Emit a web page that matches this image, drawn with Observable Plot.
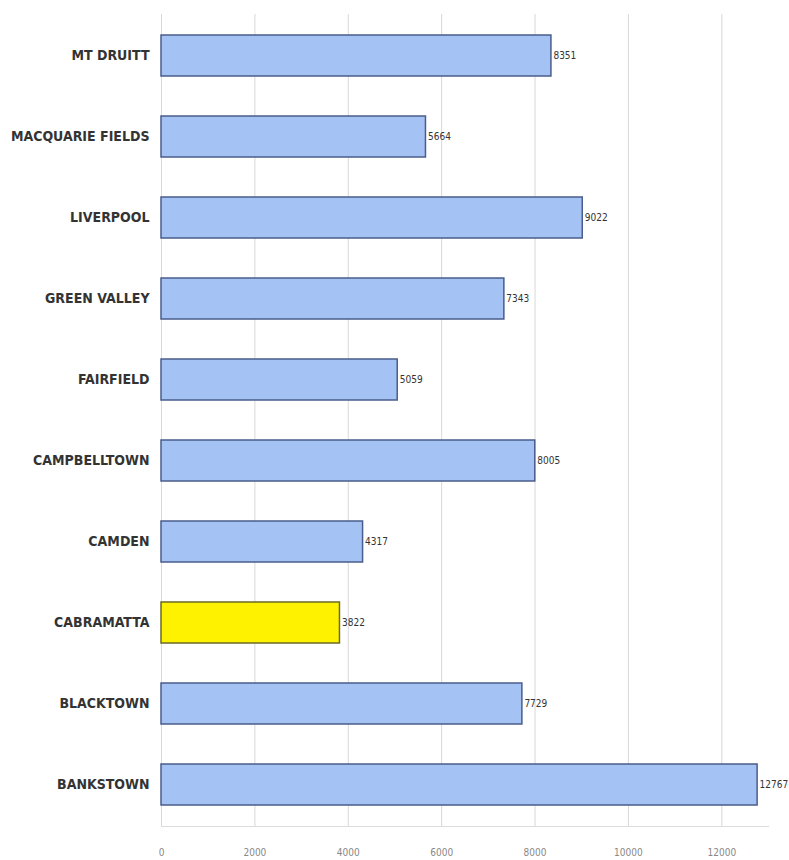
<!DOCTYPE html>
<html>
<head>
<meta charset="utf-8">
<script src="https://cdn.jsdelivr.net/npm/d3@7"></script>
<script src="https://cdn.jsdelivr.net/npm/@observablehq/plot@0.6"></script>
<style>
  html, body { margin: 0; padding: 0; background: #fff; }
  #chart svg { display: block; font-stretch: condensed; }
  #chart svg text { font-stretch: condensed; }
</style>
</head>
<body>
<div id="chart"></div>
<script>
const categories = ["MT DRUITT", "MACQUARIE FIELDS", "LIVERPOOL", "GREEN VALLEY", "FAIRFIELD", "CAMPBELLTOWN", "CAMDEN", "CABRAMATTA", "BLACKTOWN", "BANKSTOWN"];
const values = [8351, 5664, 9022, 7343, 5059, 8005, 4317, 3822, 7729, 12767];
const highlighted = ["CABRAMATTA"];
const xTicks = [0, 2000, 4000, 6000, 8000, 10000, 12000];

const data = categories.map((c, i) => ({name: c, value: values[i], hi: highlighted.includes(c)}));
const font = "'DejaVu Sans Condensed', 'DejaVu Sans', sans-serif";

const chart = Plot.plot({
  width: 789,
  height: 860,
  marginLeft: 161,
  marginRight: 21,
  marginTop: 14,
  marginBottom: 34,
  style: {fontFamily: font, background: "#fff"},
  x: {domain: [0, 13000], ticks: xTicks, label: null},
  y: {domain: categories, paddingInner: 0.5, paddingOuter: 0.25, label: null},
  marks: [
    Plot.gridX(xTicks, {stroke: "#d8d8d8", strokeOpacity: 1, strokeWidth: 1}),
    Plot.frame({anchor: "bottom", stroke: "#dcdcdc"}),
    Plot.barX(data, {
      y: "name", x: "value",
      fill: d => d.hi ? "#fff200" : "#a4c2f4",
      stroke: d => d.hi ? "#6b6b2a" : "#4a5d8a",
      strokeWidth: 1.5
    }),
    Plot.text(data, {
      y: "name", x: "value", text: d => String(d.value),
      textAnchor: "start", dx: 2, fontSize: 10, fill: "#333"
    }),
    Plot.axisY({tickSize: 0, tickPadding: 12, fontSize: 14, fontWeight: "bold", fill: "#333", label: null}),
    Plot.axisX(xTicks, {tickSize: 0, tickPadding: 22, fontSize: 10, fill: "#888", label: null, tickFormat: d => String(d)})
  ]
});
document.getElementById("chart").appendChild(chart);
</script>
</body>
</html>
